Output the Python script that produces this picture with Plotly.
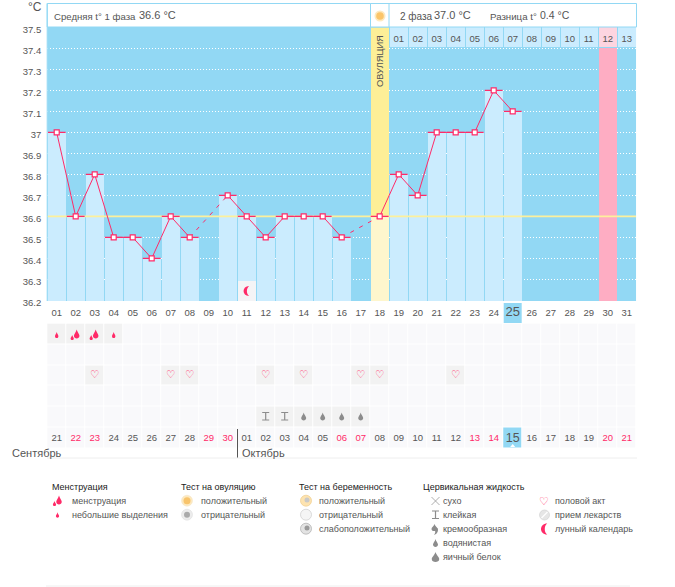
import plotly.graph_objects as go

W, H = 675, 587

days = list(range(1, 32))
temps = [37.0, 36.6, 36.8, 36.5, 36.5, 36.4, 36.6, 36.5, None, 36.7, 36.6, 36.5, 36.6, 36.6, 36.6, 36.5,
         None, 36.6, 36.8, 36.7, 37.0, 37.0, 37.0, 37.2, 37.1] + [None] * 6
cover_temp = 36.6
ovulation_day = 18
pink_day = 30
today = 25
moon_day = 11
y_ticks = [37.5, 37.4, 37.3, 37.2, 37.1, 37.0, 36.9, 36.8, 36.7, 36.6, 36.5, 36.4, 36.3, 36.2]
y_labels = ["37.5", "37.4", "37.3", "37.2", "37.1", "37", "36.9", "36.8", "36.7", "36.6", "36.5", "36.4", "36.3", "36.2"]
grid_levels = y_ticks[1:-1]
phase2_days = list(range(19, 32))
phase2_labels = ["%02d" % i for i in range(1, 14)]
calendar_dates = ["21", "22", "23", "24", "25", "26", "27", "28", "29", "30"] + ["%02d" % i for i in range(1, 22)]
red_dates = [2, 3, 9, 10, 16, 17, 23, 24, 30, 31]
heavy_days = [2, 3]
light_days = [1, 4]
heart_days = [3, 7, 8, 12, 14, 17, 18, 22]
sticky_days = [12, 13]
watery_days = [14, 15, 16, 17]

legend_heads = ["Менструация", "Тест на овуляцию", "Тест на беременность", "Цервикальная жидкость"]
legend_menses = ["менструация", "небольшие выделения"]
legend_ovul = ["положительный", "отрицательный"]
legend_preg = ["положительный", "отрицательный", "слабоположительный"]
legend_fluid = ["сухо", "клейкая", "кремообразная", "водянистая", "яичный белок"]
legend_other = ["половой акт", "прием лекарств", "лунный календарь"]

FONT = "Liberation Sans"
TXT = "#555555"
PINK = "#ff2a68"
SKY = "#92d8f4"
BAR = "#cbecfe"
GREY = "#8c8c8c"


def px(x):
    return x / W


def py(y):
    return 1 - y / H


def path(cmds, fill, line=None, width=0):
    # icon outlines are given in page pixels
    out = []
    for c in cmds:
        out.append(c[0] + " ".join("%.5f,%.5f" % (px(p[0]), py(p[1])) for p in c[1:]))
    return dict(type="path", xref="paper", yref="paper", path=" ".join(out), fillcolor=fill,
                line=dict(color=line or fill, width=width))


def drop(cx, cy, w, h, color):
    return path([("M", (cx, cy - h / 2)),
                 ("C", (cx + w * .1, cy - h * .2), (cx + w / 2, cy), (cx + w / 2, cy + h * .2)),
                 ("C", (cx + w / 2, cy + h * .42), (cx + w * .25, cy + h / 2), (cx, cy + h / 2)),
                 ("C", (cx - w * .25, cy + h / 2), (cx - w / 2, cy + h * .42), (cx - w / 2, cy + h * .2)),
                 ("C", (cx - w / 2, cy), (cx - w * .1, cy - h * .2), (cx, cy - h / 2)), ("Z",)], color)


def heavy(cx, cy):
    return [drop(cx + 1, cy - 1, 5.5, 9, PINK), drop(cx - 3.5, cy + 2.5, 3.2, 5, PINK)]


def sticky(cx, cy):
    return [path([("M", (cx - 3.5, cy - 4)), ("L", (cx + 3.5, cy - 4)), ("M", (cx, cy - 4)), ("L", (cx, cy + 3.5)),
                  ("M", (cx - 3.5, cy + 3.5)), ("L", (cx + 3.5, cy + 3.5))], "rgba(0,0,0,0)", GREY, 1.2)]


def moon(cx, cy, s=1.0):
    return path([("M", (cx + 2.5 * s, cy - 5 * s)),
                 ("C", (cx - 5 * s, cy - 5 * s), (cx - 5 * s, cy + 5 * s), (cx + 2.5 * s, cy + 5 * s)),
                 ("C", (cx - .5 * s, cy + 3 * s), (cx - .5 * s, cy - 3 * s), (cx + 2.5 * s, cy - 5 * s)), ("Z",)], PINK)


def circle(cx, cy, r, fill, line=None, width=0):
    return dict(type="circle", xref="paper", yref="paper", x0=px(cx - r), x1=px(cx + r), y0=py(cy + r), y1=py(cy - r),
                fillcolor=fill, line=dict(color=line or fill, width=width))


def box(x0, y0, x1, y1, fill, line=None, width=0, layer="above"):
    return dict(type="rect", xref="paper", yref="paper", x0=px(x0), x1=px(x1), y0=py(y1), y1=py(y0),
                fillcolor=fill, line=dict(color=line or fill, width=width), layer=layer)


def seg(x0, y0, x1, y1, color, width=1):
    return dict(type="line", xref="paper", yref="paper", x0=px(x0), x1=px(x1), y0=py(y0), y1=py(y1),
                line=dict(color=color, width=width))


def label(x, y, text, size=10, color=TXT, anchor="left", angle=0, family=FONT):
    return dict(xref="paper", yref="paper", x=px(x), y=py(y), text=text, showarrow=False, xanchor=anchor,
                yanchor="middle", textangle=angle, font=dict(family=family, size=size, color=color),
                borderpad=0, borderwidth=0)


def day_x(d):
    return 56.7 + 19 * (d - 1)


fig = go.Figure()
bar_w = 18 / 19
y_bot = 36.197
y_top = 37.502

# empty columns first
fig.add_trace(go.Bar(x=[pink_day], y=[37.4 - y_bot], base=[y_bot], width=bar_w, marker=dict(color="#feadc3", line_width=0)))
fig.add_trace(go.Bar(x=[ovulation_day], y=[y_top - cover_temp], base=[cover_temp], width=bar_w,
                     marker=dict(color="#fdef97", line_width=0)))
head_colors = ["#fdd5e0" if d == pink_day else BAR for d in phase2_days]
fig.add_trace(go.Bar(x=phase2_days, y=[y_top - 37.405] * len(phase2_days), base=[37.405] * len(phase2_days), width=bar_w,
                     marker=dict(color=head_colors, line_width=0)))

# temperature columns
bar_days = [d for d, t in zip(days, temps) if t is not None]
bar_vals = [t for t in temps if t is not None]
bar_colors = ["#fef6cd" if d == ovulation_day else BAR for d in bar_days]
fig.add_trace(go.Bar(x=bar_days, y=[v - y_bot for v in bar_vals], base=[y_bot] * len(bar_vals), width=bar_w,
                     marker=dict(color=bar_colors, line_width=0)))
fig.add_trace(go.Bar(x=[moon_day], y=[0.097], base=[y_bot], width=bar_w, marker=dict(color="#f4f4f6", line_width=0)))

# cover line
fig.add_trace(go.Scatter(x=[0.5, 31.5], y=[cover_temp, cover_temp], mode="lines", line=dict(color="#fdf09b", width=1.6)))

# dashed across missing days, solid elsewhere
dash_x, dash_y = [], []
for i, d in enumerate(bar_days[:-1]):
    if bar_days[i + 1] != d + 1:
        dash_x += [d, bar_days[i + 1], None]
        dash_y += [bar_vals[i], bar_vals[i + 1], None]
fig.add_trace(go.Scatter(x=dash_x, y=dash_y, mode="lines", line=dict(color=PINK, width=1, dash="4px,6px")))
fig.add_trace(go.Scatter(x=days, y=temps, mode="lines", connectgaps=False, line=dict(color=PINK, width=1)))
fig.add_trace(go.Scatter(x=bar_days, y=bar_vals, mode="markers",
                         marker=dict(symbol="square", size=5, color="white", line=dict(color=PINK, width=1.2)),
                         error_x=dict(type="constant", value=0.47, color=PINK, thickness=1.2, width=0)))

fig.add_trace(go.Scatter(x=phase2_days, y=[37.44] * len(phase2_days), mode="text", text=phase2_labels,
                         textfont=dict(family=FONT, size=9.5, color=TXT)))

# calendar rows below the chart
z = [[0] * 31 for _ in range(6)]
for d in heavy_days + light_days:
    z[0][d - 1] = 1
for d in heart_days:
    z[2][d - 1] = 1
for d in sticky_days + watery_days:
    z[4][d - 1] = 1
z[5][today - 1] = 2
fig.add_trace(go.Heatmap(x=days, y=list(range(6)), z=z, xaxis="x", yaxis="y2", xgap=1, ygap=1, zmin=0, zmax=2,
                         showscale=False, hoverinfo="skip",
                         colorscale=[[0, "#f9f9fb"], [0.5, "#f2f2f2"], [1, SKY]]))
fig.add_trace(go.Scatter(x=heart_days, y=[2] * len(heart_days), mode="text", text=["<b>♡</b>"] * len(heart_days), yaxis="y2",
                         textfont=dict(family="DejaVu Sans", size=10.5, color="#ff3f76")))
fig.add_trace(go.Scatter(x=days, y=[5.05] * 31, mode="text", text=calendar_dates, yaxis="y2",
                         textfont=dict(family=FONT, color=[PINK if d in red_dates else TXT for d in days],
                                       size=[12.5 if d == today else 9.5 for d in days])))

shapes = [
    dict(type="rect", xref="x", yref="y", x0=0.5, x1=31.5, y0=y_bot, y1=y_top, fillcolor=SKY, line_width=0, layer="below"),
    box(47.2, 3.5, 636.5, 27, "white", SKY, 1),
    box(370.5, 3.5, 389, 27, "white", SKY, 1),
    seg(47.2, 3.5, 47.2, 301, SKY, 1),
    box(day_x(today) - 9, 303, day_x(today) + 9, 323, SKY, layer="below"),
    seg(237.5, 429, 237.5, 458, "#555555", 1),
    seg(47, 458, 637, 458, "#eeeeee", 1),
    seg(46, 586, 630, 586, "#eeeeee", 1),
    circle(380, 16, 5.5, "#fde9bf"),
    circle(380, 16, 3.8, "#fbc56a"),
    moon(day_x(moon_day), 291),
]
row_y = 324 + 20.75 * 4 + 9.5
for d in light_days:
    shapes.append(drop(day_x(d), 335, 3.4, 6, PINK))
for d in heavy_days:
    shapes += heavy(day_x(d), 335)
for d in sticky_days:
    shapes += sticky(day_x(d), row_y)
for d in watery_days:
    shapes.append(drop(day_x(d), row_y, 5, 8, GREY))

# legend icons
shapes += heavy(58, 501)
shapes.append(drop(57.5, 515, 3.2, 5.5, PINK))
shapes += [circle(187, 500.7, 5.5, "#fde9bf", "#f2e2c4", .5), circle(187, 500.7, 3.5, "#f8c46c")]
shapes += [circle(187, 514.7, 5.5, "#ececec", "#d9d9d9", .5), circle(187, 514.7, 3, "#aaaaaa")]
shapes += [circle(306, 500.7, 5.5, "#fde3b0", "#eecb8a", .7), circle(307, 500, 2.5, "#c9c9c9")]
shapes += [circle(306, 514.7, 5.5, "#f5f5f5", "#cccccc", .7)]
shapes += [circle(306, 528.7, 5.5, "#e3e3e3", "#aaaaaa", .7), circle(307, 528, 2.5, "#9a9a9a")]
shapes += [seg(431.5, 497, 439.5, 505, GREY, .7), seg(439.5, 497, 431.5, 505, GREY, .7)]
shapes += sticky(435.5, 515)
shapes += [drop(434.5, 527.5, 6, 7, GREY),
           path([("M", (437.5, 528)), ("C", (439, 531), (437, 534), (434, 535)), ("C", (435.5, 533), (436, 531), (434, 530)), ("Z",)], GREY)]
shapes.append(drop(435.5, 543, 5, 8, GREY))
shapes.append(drop(435.5, 557, 7.5, 10, GREY))
shapes += [circle(544.5, 515, 5, "#e6e6e6", "#cfcfcf", .6), seg(541.5, 518, 547.5, 512, "white", 1.2)]
shapes.append(moon(544.5, 529, 1.1))
shapes.append(path([("M", (day_x(today) - 2.5, 447)), ("L", (day_x(today), 444)), ("L", (day_x(today) + 2.5, 447)), ("Z",)], "white"))

annotations = [
    label(28, 7.5, "°C", 12),
    label(54, 16, "Средняя t° 1 фаза", 9.6),
    label(139, 15.5, "36.6 °C", 11),
    label(400, 16, "2 фаза", 10),
    label(434, 15.5, "37.0 °C", 11),
    label(490, 16, "Разница t°", 9.7),
    label(540, 15.5, "0.4 °C", 10.5),
    label(380, 61, "ОВУЛЯЦИЯ", 9.3, "#555555", "center", -90),
    label(12, 453, "Сентябрь", 11),
    label(242, 453, "Октябрь", 11),
    label(544, 501, "♡", 11, "#ff3f76", "center", family="DejaVu Sans"),
]
for x, t in zip([52, 181, 299, 423], legend_heads):
    annotations.append(label(x, 487, t, 9, "#222222"))
for x, items in zip([72, 201, 319, 443, 555], [legend_menses, legend_ovul, legend_preg, legend_fluid, legend_other]):
    for i, t in enumerate(items):
        annotations.append(label(x, 501 + 14 * i, t, 9))

x_labels = ["<span style='font-size:13px'>%02d</span>" % d if d == today else "%02d" % d for d in days]
fig.update_layout(
    width=W, height=H, margin=dict(l=0, r=0, t=0, b=0, autoexpand=False), autosize=False,
    paper_bgcolor="white", plot_bgcolor="white", showlegend=False, barmode="overlay", bargap=0,
    font=dict(family=FONT, size=10, color=TXT),
    xaxis=dict(domain=[px(47.2), px(636.2)], range=[0.5, 31.5], tickmode="array", tickvals=days, ticktext=x_labels,
               showgrid=False, zeroline=False, ticks="outside", ticklen=3, tickcolor="rgba(0,0,0,0)", automargin=False,
               tickfont=dict(family=FONT, size=9.5, color=TXT), anchor="y", fixedrange=True),
    yaxis=dict(domain=[py(301), py(27)], range=[y_bot, y_top], tickmode="array", tickvals=y_ticks, ticktext=y_labels,
               showgrid=False, zeroline=False, ticks="outside", ticklen=3, tickcolor="rgba(0,0,0,0)", automargin=False,
               tickfont=dict(family=FONT, size=9.5, color=TXT), anchor="x", fixedrange=True, ticklabelshift=2,
               minor=dict(tickmode="array", tickvals=grid_levels, showgrid=True, griddash="1px,2px", gridcolor="white",
                          gridwidth=1, ticks="")),
    yaxis2=dict(domain=[py(448), py(323.5)], range=[5.5, -0.5], showticklabels=False, showgrid=False, zeroline=False,
                anchor="free", position=px(47.2), fixedrange=True, automargin=False),
    shapes=shapes, annotations=annotations,
)

fig.write_html("out.html", config=dict(displayModeBar=False), post_script="document.body.style.margin='0';")
